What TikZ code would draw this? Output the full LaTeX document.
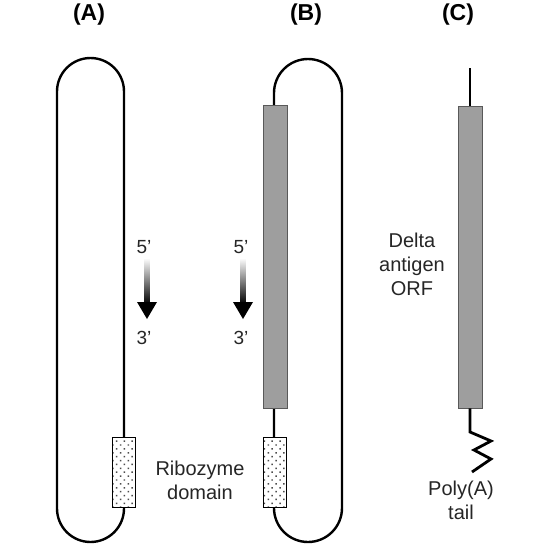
\documentclass[tikz,border=0pt]{standalone}
\usepackage{fontspec}
\setmainfont{Liberation Sans}
\usetikzlibrary{patterns.meta}
\begin{document}
\begin{tikzpicture}[x=1pt,y=-1pt,
  strand/.style={line width=2.4pt, black},
  ribo/.style={draw=black, line width=0.9pt, minimum width=23pt, minimum height=70pt, inner sep=0pt,
    preaction={fill=white}, pattern={Dots[distance=5.5pt,angle=45,radius=1.05pt]}, pattern color=black!70},
  orf/.style={draw=black!65, line width=0.9pt, fill=black!38, minimum width=24pt, inner sep=0pt},
  lbl/.style={font=\fontsize{20}{24}\selectfont, text=black!85, align=center},
  panel/.style={font=\fontsize{23}{26}\selectfont\bfseries},
  prime/.style={font=\fontsize{19}{22}\selectfont, text=black!85},
]
\useasboundingbox (0,0) rectangle (550,550);
\fill[white] (0,0) rectangle (550,550);

% panel labels
\node[panel] (la) at (89,15) {(A)};
\node[panel] (lb) at (306,15) {(B)};
\node[panel] (lc) at (458,15) {(C)};

% panel A
\draw[strand, rounded corners=33.5pt] (57,58) rectangle (124,542);
\node[ribo] (ra) at (124,472) {};
\node[prime] (a5) at (144,247) {5'};
\node[prime] (a3) at (144,338) {3'};
\shade[top color=white, bottom color=black] (144.5,258) rectangle (149.5,304);
\fill[black] (137,302) -- (157,302) -- (147,319) -- cycle;

% panel B
\draw[strand, rounded corners=34pt] (274,59) rectangle (342,542);
\node[orf, minimum height=303pt] (ob) at (275,256.5) {};
\node[ribo] (rb) at (275,472) {};
\node[prime] (b5) at (241,247) {5'};
\node[prime] (b3) at (241,338) {3'};
\shade[top color=white, bottom color=black] (240.5,258) rectangle (245.5,304);
\fill[black] (233,302) -- (253,302) -- (243,319) -- cycle;

\node[lbl] (rz) at (200,480) {Ribozyme\\domain};

% panel C
\coordinate (ct) at (470,68);
\node[orf, minimum height=302pt] (oc) at (470,257) {};
\draw[strand] (ct) -- (oc.north);
\draw[strand, line width=2.8pt] (oc.south) -- (470,432) -- (491,441) -- (474,450) -- (491,459) -- (472,472);
\node[lbl] (dl) at (412,264) {Delta\\antigen\\ORF};
\node[lbl] (pa) at (461,500) {Poly(A)\\tail};
\end{tikzpicture}
\end{document}
